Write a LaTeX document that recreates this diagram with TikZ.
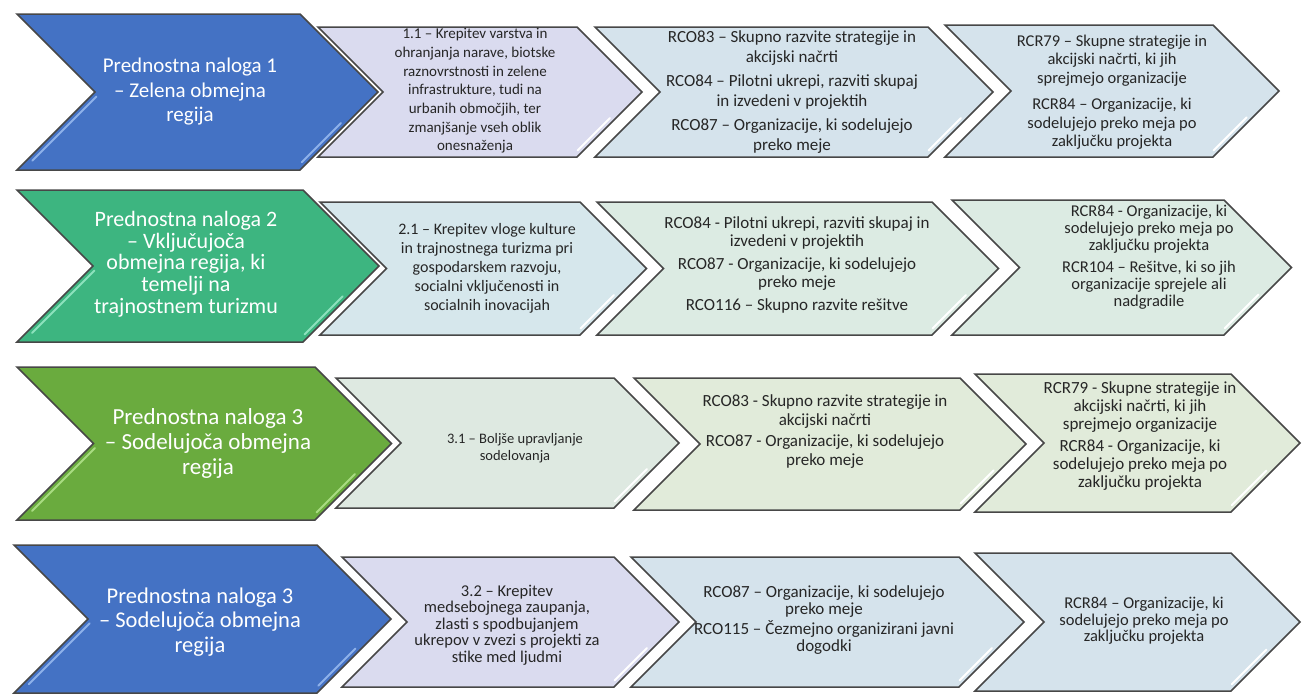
\documentclass[tikz,border=0pt]{standalone}
\usepackage{fontspec}
\setmainfont{Carlito}

\definecolor{pnblue}{HTML}{4472C4}
\definecolor{pnteal}{HTML}{3DB580}
\definecolor{pngreen}{HTML}{6AAB3E}
\definecolor{blueglint}{HTML}{8EB2EA}
\definecolor{tealglint}{HTML}{8DE2BD}
\definecolor{greenglint}{HTML}{A9DC82}
\definecolor{lilac}{HTML}{DADBEF}
\definecolor{skyish}{HTML}{D5E3EC}
\definecolor{aqua}{HTML}{D6E7EC}
\definecolor{mint}{HTML}{DCEBE3}
\definecolor{sage}{HTML}{DEE9E1}
\definecolor{pale}{HTML}{E1EBDA}

% chevron: glint colour, fill, left x, top y, top width, height
\newcommand{\chevbox}[6]{%
  \filldraw[chevron, fill=#2] (#3,#4) -- ++(#5,0) -- ++({#6/2},{#6/2})
    -- ++({-#6/2},{#6/2}) -- ++(-#5,0) -- ++({#6/2},{-#6/2}) -- cycle;
  \draw[glint, #1] ({#3+#5+#6*0.3-6},{#4+#6*0.7}) -- ({#3+#5+#6*0.05-6},{#4+#6*0.95});
}
% big chevron, with a second glint in the notch
\newcommand{\bigchevbox}[6]{%
  \chevbox{#1}{#2}{#3}{#4}{#5}{#6}
  \draw[glint, #1] ({#3+#6*0.47+6},{#4+#6*0.53}) -- ({#3+#6*0.06+6},{#4+#6*0.94});
}

\begin{document}
\begin{tikzpicture}[x=1pt,y=-1pt,
  chevron/.style={draw=black!72, line width=1.5pt, line join=miter},
  glint/.style={line width=2pt, line cap=round},
  head/.style={text=white, align=center, font=\fontsize{21}{24.5}\selectfont},
  body/.style={text=black!85, align=center, font=\fontsize{17}{19}\selectfont}]
  \fill[white] (0,0) rectangle (1303,696);
  \useasboundingbox (0,0) rectangle (1303,696);

  % Row 1
  \bigchevbox{blueglint}{pnblue}{17}{14}{283}{156}
  \chevbox{white}{lilac}{318}{27}{259}{130}
  \chevbox{white}{skyish}{595}{27}{333}{130}
  \chevbox{white}{skyish}{945}{25}{268}{132}
  \node[head] (p1) at (190,92) {Prednostna naloga 1\\– Zelena obmejna\\regija};
  \node[body, font=\fontsize{15}{18.7}\selectfont] (s1) at (475,91) {1.1 – Krepitev varstva in\\ohranjanja narave, biotske\\raznovrstnosti in zelene\\infrastrukture, tudi na\\urbanih območjih, ter\\zmanjšanje vseh oblik\\onesnaženja};
  \node[body, font=\fontsize{17}{20}\selectfont] (o1) at (792,92) {RCO83 – Skupno razvite strategije in\\akcijski načrti\\[4pt]RCO84 – Pilotni ukrepi, razviti skupaj\\in izvedeni v projektih\\[4pt]RCO87 – Organizacije, ki sodelujejo\\preko meje};
  \node[body, font=\fontsize{16.5}{18.5}\selectfont] (r1) at (1112,92) {RCR79 – Skupne strategije in\\akcijski načrti, ki jih\\sprejmejo organizacije\\[8pt]RCR84 – Organizacije, ki\\sodelujejo preko meja po\\zaključku projekta};

  % Row 2
  \bigchevbox{tealglint}{pnteal}{17}{190}{286}{152}
  \chevbox{white}{aqua}{320}{202}{260}{133}
  \chevbox{white}{mint}{597}{202}{335}{133}
  \chevbox{white}{mint}{952}{200}{272}{135}
  \node[head, font=\fontsize{22}{21.7}\selectfont] (p2) at (186,264) {Prednostna naloga 2\\– Vključujoča\\obmejna regija, ki\\temelji na\\trajnostnem turizmu};
  \node[body, font=\fontsize{16}{19}\selectfont] (s2) at (487,268) {2.1 – Krepitev vloge kulture\\in trajnostnega turizma pri\\gospodarskem razvoju,\\socialni vključenosti in\\socialnih inovacijah};
  \node[body, font=\fontsize{17}{17.5}\selectfont] (o2) at (797,265) {RCO84 - Pilotni ukrepi, razviti skupaj in\\izvedeni v projektih\\[6pt]RCO87 - Organizacije, ki sodelujejo\\preko meje\\[6pt]RCO116 – Skupno razvite rešitve};
  \node[body, font=\fontsize{16.5}{17}\selectfont] (r2) at (1149,257) {RCR84 - Organizacije, ki\\sodelujejo preko meja po\\zaključku projekta\\[5pt]RCR104 – Rešitve, ki so jih\\organizacije sprejele ali\\nadgradile};

  % Row 3
  \bigchevbox{greenglint}{pngreen}{17}{367}{298}{153}
  \chevbox{white}{sage}{336}{378}{278}{130}
  \chevbox{white}{pale}{634}{378}{326}{132}
  \chevbox{white}{pale}{975}{374}{256}{138}
  \node[head, font=\fontsize{23}{25}\selectfont] (p3) at (208,443) {Prednostna naloga 3\\– Sodelujoča obmejna\\regija};
  \node[body, font=\fontsize{14.5}{17}\selectfont] (s3) at (515,448) {3.1 – Boljše upravljanje\\sodelovanja};
  \node[body] (o3) at (825,432) {RCO83 - Skupno razvite strategije in\\akcijski načrti\\[2pt]RCO87 - Organizacije, ki sodelujejo\\preko meje};
  \node[body, font=\fontsize{17}{18}\selectfont] (r3) at (1140,436) {RCR79 - Skupne strategije in\\akcijski načrti, ki jih\\sprejmejo organizacije\\[4pt]RCR84 - Organizacije, ki\\sodelujejo preko meja po\\zaključku projekta};

  % Row 4
  \bigchevbox{blueglint}{pnblue}{14}{545}{303}{148}
  \chevbox{white}{lilac}{342}{557}{272}{130}
  \chevbox{white}{skyish}{631}{557}{328}{130}
  \chevbox{white}{skyish}{975}{553}{256}{138}
  \node[head, font=\fontsize{22.5}{24.5}\selectfont] (p4) at (200,622) {Prednostna naloga 3\\– Sodelujoča obmejna\\regija};
  \node[body, font=\fontsize{16.5}{16.5}\selectfont] (s4) at (507,625) {3.2 – Krepitev\\medsebojnega zaupanja,\\zlasti s spodbujanjem\\ukrepov v zvezi s projekti za\\stike med ljudmi};
  \node[body, font=\fontsize{17}{17.5}\selectfont] (o4) at (824,620) {RCO87 – Organizacije, ki sodelujejo\\preko meje\\[2pt]RCO115 – Čezmejno organizirani javni\\dogodki};
  \node[body, font=\fontsize{16.5}{16.5}\selectfont] (r4) at (1144,621) {RCR84 – Organizacije, ki\\sodelujejo preko meja po\\zaključku projekta};
\end{tikzpicture}
\end{document}
